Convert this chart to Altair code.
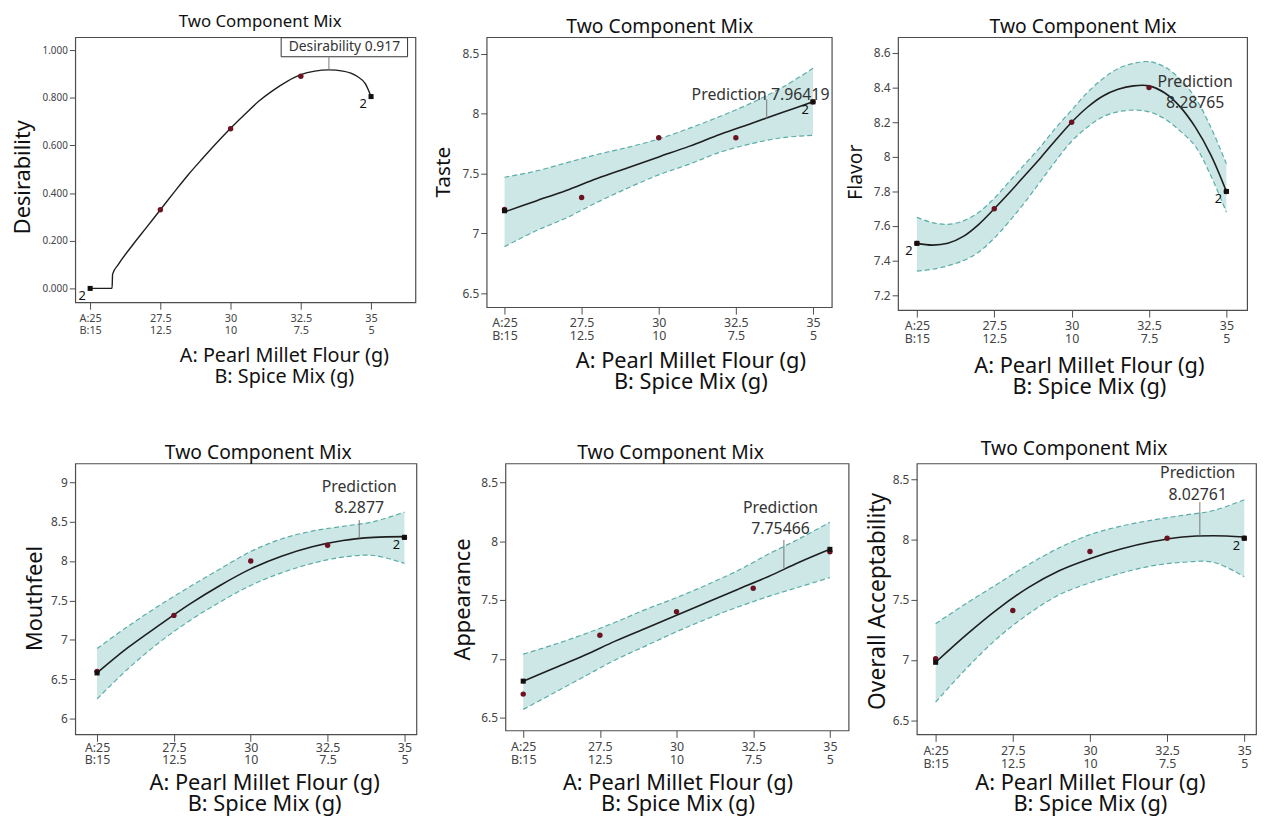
import altair as alt
import pandas as pd

FONT = "Noto Sans"

# ---------------- shared axis labels ----------------
A_TICKS = [25, 27.5, 30, 32.5, 35]
A_LABELS = ["A:25", "27.5", "30", "32.5", "35"]
B_LABELS = ["B:15", "12.5", "10", "7.5", "5"]
X_TITLE = ["A: Pearl Millet Flour (g)", "B: Spice Mix (g)"]
PANEL_TITLE = "Two Component Mix"
END_X = [25, 35]
PT_X = [25, 27.5, 30, 32.5, 35]
X_GRID = [25, 26, 27, 28, 29, 30, 31, 32, 33, 34, 35]

# ---------------- Desirability ----------------
DES_X = [25, 25.78, 25.80, 26.0, 26.5, 27.0, 27.5, 28.0, 28.5, 29.0, 29.5, 30.0,
         30.5, 31.0, 31.5, 32.0, 32.5, 33.0, 33.5, 34.0, 34.5, 34.8, 35.0]
DES_FIT = [0.0, 0.0, 0.06, 0.10, 0.18, 0.255, 0.33, 0.405, 0.478, 0.545, 0.61, 0.672,
           0.73, 0.785, 0.83, 0.868, 0.897, 0.912, 0.917, 0.912, 0.89, 0.858, 0.805]
DES_PT_X = [27.5, 30, 32.5]
DES_PTS = [0.33, 0.67, 0.89]
DES_END = [0.0, 0.805]

# ---------------- Taste ----------------
TASTE_FIT = [7.18, 7.27, 7.36, 7.46, 7.55, 7.64, 7.73, 7.83, 7.92, 8.01, 8.10]
TASTE_UP = [7.47, 7.52, 7.59, 7.66, 7.72, 7.79, 7.88, 7.98, 8.09, 8.22, 8.38]
TASTE_LO = [6.89, 7.02, 7.13, 7.26, 7.38, 7.49, 7.58, 7.68, 7.75, 7.80, 7.82]
TASTE_PTS = [7.2, 7.3, 7.8, 7.8, 8.1]
TASTE_END = [7.19, 8.10]

# ---------------- Flavor ----------------
FLAVOR_X = [25, 25.5, 26, 26.5, 27, 27.5, 28, 28.5, 29, 29.5, 30, 30.5, 31, 31.5,
            32, 32.5, 33, 33.5, 34, 34.5, 35]
FLAVOR_FIT = [7.50, 7.49, 7.50, 7.54, 7.61, 7.70, 7.795, 7.895, 7.995, 8.10, 8.20, 8.285,
              8.35, 8.39, 8.41, 8.41, 8.37, 8.29, 8.17, 8.01, 7.80]
FLAVOR_UP = [7.65, 7.62, 7.61, 7.63, 7.68, 7.76, 7.86, 7.96, 8.06, 8.17, 8.27, 8.37,
             8.45, 8.51, 8.54, 8.55, 8.52, 8.45, 8.34, 8.17, 7.96]
FLAVOR_LO = [7.34, 7.35, 7.37, 7.40, 7.45, 7.53, 7.63, 7.74, 7.86, 7.98, 8.09, 8.17,
             8.23, 8.26, 8.27, 8.26, 8.22, 8.15, 8.06, 7.89, 7.68]
FLAVOR_PTS = [7.5, 7.7, 8.2, 8.4, 7.8]
FLAVOR_END = [7.5, 7.8]

# ---------------- Mouthfeel ----------------
MOUTH_FIT = [6.58, 6.90, 7.18, 7.45, 7.69, 7.90, 8.06, 8.18, 8.26, 8.30, 8.31]
MOUTH_UP = [6.89, 7.17, 7.43, 7.67, 7.90, 8.12, 8.28, 8.38, 8.44, 8.50, 8.62]
MOUTH_LO = [6.25, 6.63, 6.96, 7.24, 7.48, 7.69, 7.85, 7.97, 8.05, 8.07, 7.97]
MOUTH_PTS = [6.6, 7.31, 8.0, 8.2, 8.3]
MOUTH_END = [6.58, 8.30]

# ---------------- Appearance ----------------
APP_FIT = [6.81, 6.92, 7.03, 7.15, 7.26, 7.37, 7.48, 7.59, 7.70, 7.82, 7.93]
APP_UP = [7.04, 7.12, 7.21, 7.31, 7.42, 7.52, 7.63, 7.75, 7.89, 8.02, 8.16]
APP_LO = [6.57, 6.71, 6.85, 6.99, 7.11, 7.23, 7.34, 7.44, 7.53, 7.61, 7.69]
APP_PTS = [6.7, 7.2, 7.4, 7.6, 7.91]
APP_END = [6.81, 7.93]

# ---------------- Overall acceptability ----------------
OA_FIT = [6.98, 7.21, 7.42, 7.60, 7.74, 7.84, 7.92, 7.98, 8.02, 8.03, 8.02]
OA_UP = [7.30, 7.47, 7.63, 7.79, 7.93, 8.04, 8.11, 8.16, 8.20, 8.24, 8.33]
OA_LO = [6.65, 6.93, 7.18, 7.38, 7.54, 7.64, 7.72, 7.78, 7.81, 7.81, 7.69]
OA_PTS = [7.01, 7.41, 7.9, 8.01, 8.01]
OA_END = [6.98, 8.01]

BAND_FILL = "#cce7e5"
BAND_EDGE = "#5aada7"
FIT_COLOR = "#1e1e1e"
PT_COLOR = "#6b1322"
FRAME = "#4d4d4d"

LABEL_EXPR = "".join(
    f"datum.value == {v} ? ['{a}', '{b}'] : " for v, a, b in zip(A_TICKS, A_LABELS, B_LABELS)
) + "''"

ONE = pd.DataFrame({"a": [0]})


def panel(p):
    xs = alt.Scale(domain=p["xdom"], nice=False, zero=False)
    ys = alt.Scale(domain=p["ydom"], nice=False, zero=False)
    xax = alt.Axis(values=A_TICKS, labelExpr=LABEL_EXPR, title=X_TITLE, grid=False,
                   domain=False, tickSize=7, tickColor=FRAME,
                   labelPadding=p.get("xlp", 3),
                   labelFont=FONT, labelFontSize=p.get("xlfs", 12.5), labelColor="#444",
                   labelLineHeight=p.get("xllh", 13), labelFlush=False, labelOverlap=False,
                   titleFont=FONT, titleFontSize=p.get("xtfs", 22), titleFontWeight="normal",
                   titleColor="#111", titleLineHeight=21, titleX=p["xtx"],
                   titleY=p["xty"], titleAlign="center", titleBaseline="alphabetic")
    yax = alt.Axis(values=p["yticks"], format=p["fmt"], title=p["ytitle"], grid=False,
                   domain=False, tickSize=6, tickColor=FRAME, labelPadding=2,
                   labelFont=FONT, labelFontSize=p.get("ylfs", 12), labelColor="#444",
                   labelFlush=False, labelOverlap=False,
                   titleFont=FONT, titleFontSize=p.get("ytfs", 22), titleFontWeight="normal",
                   titleColor="#111", titleAngle=270, titleX=p["ytx"],
                   titleY=p["yty"], titleAlign="center", titleBaseline="middle")
    interp = p.get("interp", "catmull-rom")

    def X():
        return alt.X("x:Q", scale=xs, axis=xax)

    def Y(field="y"):
        return alt.Y(f"{field}:Q", scale=ys, axis=yax)

    layers = []
    # invisible corner markers that fix the panel's outer extent
    layers.append(alt.Chart(ONE).mark_point(opacity=0, size=1, filled=True)
                  .encode(x=alt.value(-p["L"]), y=alt.value(-p["T"])))
    layers.append(alt.Chart(ONE).mark_point(opacity=0, size=1, filled=True)
                  .encode(x=alt.value(p["w"] + p["R"]), y=alt.value(p["h"] + p["B"])))

    if p.get("up") is not None:
        band = pd.DataFrame({"x": p["cx"], "lo": p["lo"], "up": p["up"]})
        layers.append(alt.Chart(band).mark_area(color=BAND_FILL, opacity=1,
                                                interpolate=interp)
                      .encode(x=X(), y=Y("lo"), y2="up:Q"))
        for f in ["up", "lo"]:
            layers.append(alt.Chart(band).mark_line(color=BAND_EDGE, strokeWidth=1.2,
                                                    strokeDash=[5, 3],
                                                    interpolate=interp)
                          .encode(x=X(), y=Y(f)))
    fit = pd.DataFrame({"x": p["cx"], "y": p["fit"]})
    layers.append(alt.Chart(fit).mark_line(color=FIT_COLOR, strokeWidth=p.get("fw", 1.6),
                                           interpolate=interp)
                  .encode(x=X(), y=Y()))
    if p.get("box") is not None:
        bx = p["box"]
        box = pd.DataFrame({"x": [bx[0]], "x2": [bx[1]], "y": [bx[2]], "y2": [bx[3]]})
        layers.append(alt.Chart(box).mark_rect(fill="white", stroke="#333",
                                               strokeWidth=1)
                      .encode(x=X(), x2="x2:Q", y=Y(), y2="y2:Q"))
    if p["rule"][2] is not None:
        ann = pd.DataFrame({"x": [p["rule"][0]], "y": [p["rule"][1]],
                            "y2": [p["rule"][2]]})
        layers.append(alt.Chart(ann).mark_rule(color="#777", strokeWidth=1)
                      .encode(x=X(), y=Y(), y2="y2:Q"))
    txt = pd.DataFrame({"x": p["tx"], "y": p["ty"], "t": p["tt"]})
    layers.append(alt.Chart(txt).mark_text(font=FONT, fontSize=p.get("tfs", 16),
                                           color="#333", align="center",
                                           baseline="middle")
                  .encode(x=X(), y=Y(), text="t:N"))
    pts = pd.DataFrame({"x": p["px"], "y": p["pts"]})
    layers.append(alt.Chart(pts).mark_point(filled=True, shape="circle", size=30,
                                            color=PT_COLOR, opacity=1)
                  .encode(x=X(), y=Y()))
    ends = pd.DataFrame({"x": END_X, "y": p["end"]})
    layers.append(alt.Chart(ends).mark_point(filled=True, shape="square", size=26,
                                             color="#151010", opacity=1)
                  .encode(x=X(), y=Y()))
    if p["twos"]:
        two = pd.DataFrame({"x": [END_X[i] for i in p["twos"]],
                            "y": [p["end"][i] for i in p["twos"]],
                            "t": ["2"] * len(p["twos"])})
        layers.append(alt.Chart(two).mark_text(font=FONT, fontSize=13, color="#111",
                                               dx=-8, dy=8)
                      .encode(x=X(), y=Y(), text="t:N"))
    # panel heading as a text mark at a fixed offset above the frame
    hfs = p.get("hfs", 19.5)
    layers.append(alt.Chart(ONE).mark_text(font=FONT, fontSize=hfs,
                                           color="#111", align="center",
                                           baseline="top", text=PANEL_TITLE)
                  .encode(x=alt.value(p["hx"]), y=alt.value(p["hy"] - 0.43 * hfs)))

    return alt.layer(*layers).properties(width=p["w"], height=p["h"])


P = [
    dict(cx=DES_X, fit=DES_FIT, up=None, lo=None, px=DES_PT_X, pts=DES_PTS, end=DES_END,
         xdom=[24.47, 36.58], ydom=[-0.058, 1.054], yticks=[0, 0.2, 0.4, 0.6, 0.8, 1.0],
         fmt=".3f", ytitle="Desirability", w=344, h=268, interp="monotone", fw=1.4,
         xlfs=11, ylfs=10, xtfs=20, ytfs=22, hfs=17,
         L=66, R=8, T=16, B=101, ytx=-53, yty=141, xtx=211, xty=60, hx=187, hy=-16,
         twos=[0, 1], box=[31.8, 36.3, 0.972, 1.052], rule=[33.5, 0.917, 0.972],
         tx=[34.05], ty=[1.012], tt=["Desirability 0.917"], tfs=14),
    dict(cx=X_GRID, fit=TASTE_FIT, up=TASTE_UP, lo=TASTE_LO, px=PT_X, pts=TASTE_PTS,
         end=TASTE_END, xdom=[24.42, 35.61], ydom=[6.384, 8.64],
         yticks=[6.5, 7, 7.5, 8, 8.5], fmt="~g", ytitle="Taste", w=349, h=273,
         ytfs=21,
         L=60, R=5, T=16, B=96, ytx=-44, yty=136, xtx=206, xty=61, hx=175, hy=-11,
         twos=[1], rule=[33.5, 7.96, 8.12], tx=[33.3], ty=[8.16],
         tt=["Prediction  7.96419"]),
    dict(cx=FLAVOR_X, fit=FLAVOR_FIT, up=FLAVOR_UP, lo=FLAVOR_LO, px=PT_X, pts=FLAVOR_PTS,
         end=FLAVOR_END, xdom=[24.39, 35.67], ydom=[7.114, 8.691],
         yticks=[7.2, 7.4, 7.6, 7.8, 8, 8.2, 8.4, 8.6], fmt="~g", ytitle="Flavor",
         ytfs=19.5,
         w=353, h=276, L=58, R=2, T=16, B=93, ytx=-43, yty=136, xtx=193, xty=63,
         hx=187, hy=-11, twos=[0, 1], rule=[33.5, 8.29, None], tx=[33.99, 33.99],
         ty=[8.43, 8.31], tt=["Prediction", "8.28765"]),
    dict(cx=X_GRID, fit=MOUTH_FIT, up=MOUTH_UP, lo=MOUTH_LO, px=PT_X, pts=MOUTH_PTS,
         end=MOUTH_END, xdom=[24.29, 35.39], ydom=[5.8, 9.238],
         yticks=[6, 6.5, 7, 7.5, 8, 8.5, 9], fmt="~g", ytitle="Mouthfeel",
         w=345, h=274, L=66, R=26, T=28, B=78, ytx=-41, yty=136, xtx=191, xty=56,
         xlp=0, xllh=12, hx=185, hy=-11, twos=[1], rule=[33.53, 8.29, 8.52],
         tx=[33.53, 33.53], ty=[8.94, 8.67], tt=["Prediction", "8.2877"]),
    dict(cx=X_GRID, fit=APP_FIT, up=APP_UP, lo=APP_LO, px=PT_X, pts=APP_PTS,
         end=APP_END, xdom=[24.42, 35.61], ydom=[6.391, 8.66],
         yticks=[6.5, 7, 7.5, 8, 8.5], fmt="~g", ytitle="Appearance",
         w=347, h=270, L=60, R=7, T=28, B=82, ytx=-43, yty=137, xtx=174, xty=60,
         hx=167, hy=-11, twos=[], rule=[33.5, 7.77, 8.01], tx=[33.39, 33.39],
         ty=[8.28, 8.10], tt=["Prediction", "7.75466"]),
    dict(cx=X_GRID, fit=OA_FIT, up=OA_UP, lo=OA_LO, px=PT_X, pts=OA_PTS,
         end=OA_END, xdom=[24.39, 35.38], ydom=[6.381, 8.631],
         yticks=[6.5, 7, 7.5, 8, 8.5], fmt="~g", ytitle="Overall Acceptability",
         ytfs=23,
         w=343, h=274, L=58, R=0, T=28, B=78, ytx=-40, yty=139, xtx=175, xty=56,
         hx=159, hy=-15, twos=[1], rule=[33.56, 8.03, 8.31], tx=[33.49, 33.49],
         ty=[8.55, 8.37], tt=["Prediction", "8.02761"]),
]

panels = [panel(p) for p in P]

row1 = alt.hconcat(panels[0], panels[1], panels[2], spacing=0)
row2 = alt.hconcat(panels[3], panels[4], panels[5], spacing=0)

chart = alt.vconcat(row1, row2, spacing=30).properties(
    padding={"left": 0, "top": 0, "right": 0, "bottom": 0},
    background="white",
).configure_view(stroke=FRAME, strokeWidth=1.2)

chart.save("out.html", embed_options={"renderer": "svg", "actions": False})
